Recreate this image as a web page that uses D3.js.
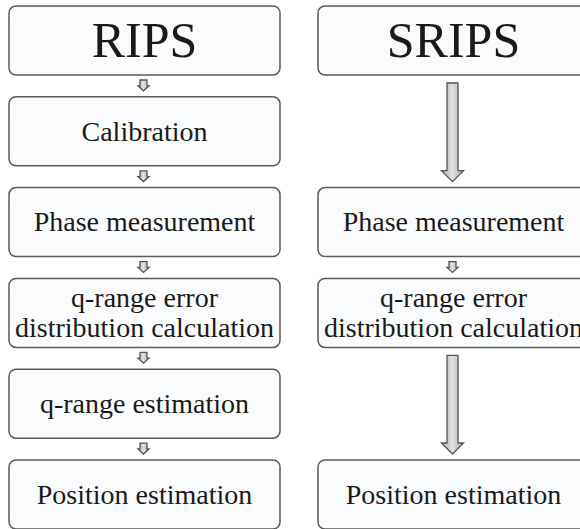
<!DOCTYPE html>
<html>
<head>
<meta charset="utf-8">
<script src="https://cdn.jsdelivr.net/npm/d3@7"></script>
</head>
<body style="margin:0">
<script>
// Flow steps for each method (row index = vertical slot)
const columns = ["RIPS", "SRIPS"]
const ripsRows = [0, 1, 2, 3, 4, 5]
const ripsLabels = ["RIPS", "Calibration", "Phase measurement", "q-range error\ndistribution calculation", "q-range estimation", "Position estimation"]
const sripsRows = [0, 2, 3, 5]
const sripsLabels = ["SRIPS", "Phase measurement", "q-range error\ndistribution calculation", "Position estimation"]

const width = 580
const height = 529
const boxW = 271
const boxH = 69

const svg = d3.select("body").append("svg")
    .attr("width", width)
    .attr("height", height)

// Gradient for the arrows
const grad = svg.append("defs").append("linearGradient")
    .attr("id", "arrowFill")
    .attr("x1", "0%").attr("x2", "100%")
grad.append("stop").attr("offset", "0%").attr("stop-color", "#b0b0b0")
grad.append("stop").attr("offset", "50%").attr("stop-color", "#e2e2e2")
grad.append("stop").attr("offset", "100%").attr("stop-color", "#a8a8a8")

// Column position
const xScale = d3.scalePoint()
  .domain(columns)
  .range([9, 318])

// Row position (top of each box)
const yScale = d3.scaleLinear()
  .domain([0, 5])
  .range([6, 460])

const flows = [
  { col: "RIPS", rows: ripsRows, labels: ripsLabels },
  { col: "SRIPS", rows: sripsRows, labels: sripsLabels }
]

const nodes = flows.flatMap(f => f.rows.map((r, i) => ({
  col: f.col, row: r, label: f.labels[i], title: i === 0,
  cx: xScale(f.col) + boxW / 2
})))

// Boxes
svg.selectAll("rect.box")
  .data(nodes)
  .join("rect")
  .attr("class", "box")
  .attr("x", d => xScale(d.col))
  .attr("y", d => yScale(d.row))
  .attr("width", boxW)
  .attr("height", boxH)
  .attr("rx", 7)
  .attr("fill", "#fafbfd")
  .attr("stroke", "#5a5a5a")
  .attr("stroke-width", 1.5)

// Arrows between consecutive boxes of a column
const links = flows.flatMap(f => d3.pairs(nodes.filter(n => n.col === f.col)))
svg.selectAll("path.arrow")
  .data(links)
  .join("path")
  .attr("class", "arrow")
  .attr("fill", "url(#arrowFill)")
  .attr("stroke", "#555")
  .attr("stroke-width", 1.3)
  .attr("d", ([a, b]) => {
    const big = b.row - a.row > 1
    const y1 = yScale(a.row) + boxH + (big ? 8 : 5)
    const y2 = yScale(b.row) - 6
    const sw = big ? 5.5 : 3.5
    const hw = big ? 11 : 5.5
    const hl = big ? 11 : 5
    const ax = a.cx - 1
    return `M${ax - sw},${y1} L${ax + sw},${y1} L${ax + sw},${y2 - hl} L${ax + hw},${y2 - hl} L${ax},${y2} L${ax - hw},${y2 - hl} L${ax - sw},${y2 - hl} Z`
  })

// Labels, one text element per line, placed directly in the svg
const lines = nodes.flatMap(d => {
  const parts = d.label.split("\n")
  const fs = d.title ? 50 : 28
  const mid = yScale(d.row) + boxH / 2
  const lh = 30
  const first = mid + fs * 0.33 - (parts.length - 1) * lh / 2
  return parts.map((p, i) => ({ text: p, fs: fs, y: first + i * lh, cx: d.cx }))
})

svg.selectAll("text")
  .data(lines)
  .join("text")
  .attr("x", d => d.cx)
  .attr("y", d => d.y)
  .attr("text-anchor", "middle")
  .attr("font-size", d => d.fs)
  .attr("fill", "#1a1a1a")
  .style("font-family", d => `"Liberation Serif"`)
  .text(d => d.text)
</script>
</body>
</html>
